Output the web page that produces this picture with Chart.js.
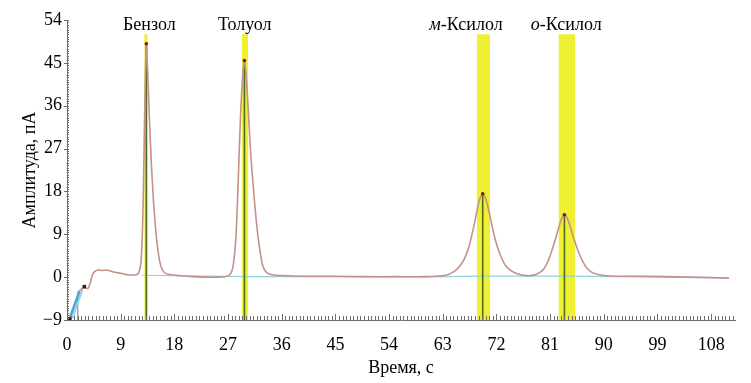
<!DOCTYPE html>
<html><head><meta charset="utf-8">
<script src="https://cdn.jsdelivr.net/npm/chart.js@4/dist/chart.umd.min.js"></script>
<style>html,body{margin:0;padding:0;background:#fff}#w{width:751px;height:383px}</style>
</head><body><div id="w"><canvas id="c"></canvas></div>
<script>
// ---- data ----
const traceTime = [2.0,2.5,3.0,3.5,3.9,4.3,4.8,5.3,5.9,6.4,7.0,7.8,8.6,9.4,10.2,11.0,11.6,12.0,12.4,12.7,12.9,13.1,13.3,13.5,13.8,14.1,14.4,14.8,15.2,15.6,16.0,16.5,17.5,19,21,23,25,26.5,27.3,27.8,28.3,28.7,29.1,29.5,29.75,30.0,30.4,30.8,31.3,31.8,32.3,32.8,33.3,34,35,37,40,45,50,55,60,62,63.5,64.5,65.5,66.5,67.3,68.0,68.6,69.1,69.7,70.2,70.8,71.4,72.0,72.7,73.5,74.5,75.5,76.5,77.5,78.5,79.3,80.0,80.7,81.4,82.0,82.6,83.0,83.4,83.8,84.4,85.0,85.7,86.5,87.3,88.2,89.2,90.5,93,96,100,104,108,111];
const traceAmp  = [-3.0,-2.4,-2.2,-2.4,-1.2,0.6,1.3,1.5,1.4,1.5,1.4,1.1,0.9,0.7,0.5,0.45,0.5,0.8,3,12,25,40,49,44,34,25,18,11,6,3,1.5,0.8,0.5,0.3,0.1,0,0,0.1,0.5,2,8,20,34,43,45.5,43,35,26,18,11,6,2.5,1.2,0.6,0.4,0.3,0.2,0.2,0.1,0.1,0.1,0.2,0.4,0.9,1.8,3.5,6,9.5,13,16,17.5,16.5,13.5,10,7,4.5,2.5,1.3,0.7,0.4,0.3,0.5,1.0,1.8,3.5,6,8.5,11,12.5,13.1,12.6,10.5,8,5.5,3.2,1.7,0.9,0.5,0.3,0.2,0.2,0.1,0.0,-0.1,-0.2];
const baseTime = [12.6,30,60,70,84,109];
const baseAmp  = [0.4,0.1,0.05,0.2,0.2,-0.1];
const peakNames  = ['Бензол','Толуол','м-Ксилол','о-Ксилол'];
const peakItalic = ['','','м','о'];
const peakTime   = [13.3,29.75,69.7,83.4];
const peakAmp    = [49,45.5,17.5,13.1];
const labelTime  = [13.8,29.8,66.9,83.7];
const bandStart  = [12.95,29.3,68.7,82.4];
const bandEnd    = [13.55,30.4,70.95,85.2];
const bandTop    = 51;
const startTime  = [0.4,2.1];
const startAmp   = [-8.8,-3.0];
const startTime2 = [0.9,2.6];
const startAmp2  = [-8.6,-2.6];
const markerTime = [0.4,2.9];
const markerAmp  = [-8.8,-2.0];
const xTicks = [0,9,18,27,36,45,54,63,72,81,90,99,108];
const yTicks = [-9,0,9,18,27,36,45,54];
const xMin = 0, xMax = 112, yMin = -9, yMax = 54;

const FONT = 'Liberation Serif';
const xy = (a,b) => a.map((t,i)=>({x:t,y:b[i]}));
const datasets = [];
bandStart.forEach((s,i)=>{
  datasets.push({data:[{x:s,y:bandTop},{x:bandEnd[i],y:bandTop}],borderWidth:0,pointRadius:0,
    backgroundColor:'rgba(238,238,40,0.95)',fill:{value:yMin},order:10});
});
datasets.push({data:xy(baseTime,baseAmp),borderColor:'#8fd3dc',borderWidth:1.2,pointRadius:0,fill:false,order:5});
peakTime.forEach((t,i)=>{
  datasets.push({data:[{x:t,y:yMin},{x:t,y:peakAmp[i]}],borderColor:'#4f6b1c',borderWidth:1.6,pointRadius:0,fill:false,order:4});
});
datasets.push({data:xy(startTime,startAmp),borderColor:'#4aa6d6',borderWidth:2.5,pointRadius:0,fill:false,order:3});
datasets.push({data:xy(startTime2,startAmp2),borderColor:'#8fd6e4',borderWidth:2,pointRadius:0,fill:false,order:3});
datasets.push({data:[{x:1.8,y:yMin},{x:1.8,y:-3.0}],borderColor:'#9a88b8',borderWidth:1.2,pointRadius:0,fill:false,order:3});
datasets.push({data:xy(traceTime,traceAmp),borderColor:'#c4908a',borderWidth:1.6,pointRadius:0,fill:false,tension:0.3,order:2});
datasets.push({data:xy(peakTime,peakAmp),showLine:false,pointRadius:1.8,pointBackgroundColor:'#7a1f10',pointBorderWidth:0,order:1});
datasets.push({data:xy(markerTime,markerAmp),showLine:false,pointRadius:2.5,pointStyle:'rect',pointBackgroundColor:'#4a1010',pointBorderWidth:0,order:1});

const deco = {
  id:'deco',
  afterDraw(chart){
    const ctx = chart.ctx, xs = chart.scales.x, ys = chart.scales.y, ca = chart.chartArea;
    ctx.save();
    ctx.strokeStyle = '#6e6e6e'; ctx.lineWidth = 1;
    for (let v = xMin; v <= xMax + 1e-9; v += 0.6) {
      const px = Math.round(xs.getPixelForValue(v)) + 0.5;
      const major = Math.abs(v/9 - Math.round(v/9)) < 1e-6;
      ctx.beginPath(); ctx.moveTo(px, ca.bottom); ctx.lineTo(px, ca.bottom - (major?6:4)); ctx.stroke();
    }
    for (let v = yMin; v <= yMax + 1e-9; v += 0.5) {
      const py = Math.round(ys.getPixelForValue(v)) + 0.5;
      ctx.beginPath(); ctx.moveTo(ca.left, py); ctx.lineTo(ca.left + 2, py); ctx.stroke();
    }
    yTicks.forEach(v=>{
      const py = Math.round(ys.getPixelForValue(v)) + 0.5;
      ctx.beginPath(); ctx.moveTo(ca.left - 3, py); ctx.lineTo(ca.left, py); ctx.stroke();
    });
    ctx.fillStyle = '#000'; ctx.textBaseline = 'middle';
    peakNames.forEach((name,i)=>{
      const it = peakItalic[i];
      const rest = name.slice(it.length);
      ctx.font = 'italic 18px "' + FONT + '"';
      const w1 = it ? ctx.measureText(it).width : 0;
      ctx.font = '18px "' + FONT + '"';
      const w2 = ctx.measureText(rest).width;
      let x = xs.getPixelForValue(labelTime[i]) - (w1+w2)/2;
      const y = ca.top + 5;
      ctx.textAlign = 'left';
      if (it) { ctx.font = 'italic 18px "' + FONT + '"'; ctx.fillText(it, x, y); x += w1; }
      ctx.font = '18px "' + FONT + '"'; ctx.fillText(rest, x, y);
    });
    ctx.restore();
  }
};

new Chart(document.getElementById('c'), {
  type:'line',
  data:{datasets},
  options:{
    responsive:true, maintainAspectRatio:false, animation:false,
    layout:{padding:{left:16,right:16,top:20,bottom:0}},
    plugins:{legend:{display:false},tooltip:{enabled:false}},
    scales:{
      x:{type:'linear',min:xMin,max:xMax,
        afterBuildTicks:s=>{s.ticks = xTicks.map(v=>({value:v}));},
        afterFit:s=>{s.height = 63;},
        grid:{display:false,drawTicks:false},
        border:{display:true,color:'#6e6e6e',width:1},
        ticks:{padding:14,color:'#000',font:{family:FONT,size:18},maxRotation:0,autoSkip:false},
        title:{display:true,text:'Время, с',color:'#000',font:{family:FONT,size:18},padding:{top:0,bottom:4}}
      },
      y:{type:'linear',min:yMin,max:yMax,
        afterBuildTicks:s=>{s.ticks = yTicks.map(v=>({value:v}));},
        afterFit:s=>{s.width = 51;},
        grid:{display:false,drawTicks:false},
        border:{display:true,color:'#6e6e6e',width:1,dash:[2,1]},
        ticks:{padding:5,color:'#000',font:{family:FONT,size:18},callback:v=> v<0 ? '\u2212'+Math.abs(v) : String(v)},
        title:{display:true,text:'Амплитуда, пА',color:'#000',font:{family:FONT,size:18},padding:{top:3,bottom:0}}
      }
    }
  },
  plugins:[deco]
});
</script></body></html>
